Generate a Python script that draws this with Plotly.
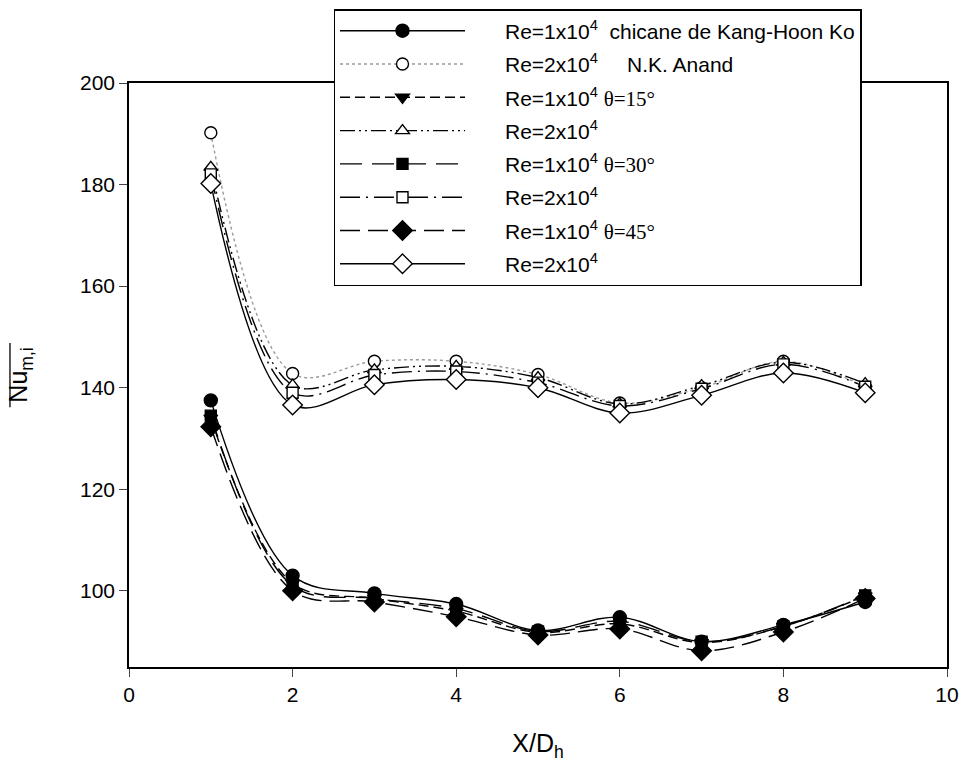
import plotly.graph_objects as go

x_pos = [1, 2, 3, 4, 5, 6, 7, 8, 9]

# Re = 1x10^4
ko_re1 = [137.5, 103.0, 99.5, 97.4, 92.2, 94.8, 90.0, 93.3, 97.8]
t15_re1 = [134.0, 101.5, 98.5, 96.0, 91.8, 93.5, 89.8, 93.0, 99.0]
t30_re1 = [134.5, 101.0, 98.5, 96.5, 92.0, 94.0, 90.0, 93.0, 99.1]
t45_re1 = [132.3, 100.0, 97.8, 94.9, 91.3, 92.5, 88.2, 91.9, 98.5]

# Re = 2x10^4
anand_re2 = [190.2, 142.8, 145.2, 145.2, 142.6, 137.0, 140.0, 145.2, 140.2]
t15_re2 = [183.4, 140.5, 143.5, 144.2, 142.0, 136.8, 140.4, 145.0, 140.8]
t30_re2 = [182.0, 139.0, 142.5, 143.2, 141.0, 136.4, 139.8, 144.6, 140.2]
t45_re2 = [180.2, 136.6, 140.6, 141.6, 140.0, 135.0, 138.5, 142.9, 139.0]

SERIF = "font-family:'Liberation Serif','Times New Roman',serif"
PAD = "\u00a0" * 6
names = [
    PAD + "Re=1x10<sup>4</sup>\u00a0\u00a0chicane de Kang-Hoon Ko",
    PAD + "Re=2x10<sup>4</sup>" + "\u00a0" * 5 + "N.K. Anand",
    PAD + f"Re=1x10<sup>4</sup> <span style=\"{SERIF}\">θ=15°</span>",
    PAD + "Re=2x10<sup>4</sup>",
    PAD + f"Re=1x10<sup>4</sup> <span style=\"{SERIF}\">θ=30°</span>",
    PAD + "Re=2x10<sup>4</sup>",
    PAD + f"Re=1x10<sup>4</sup> <span style=\"{SERIF}\">θ=45°</span>",
    PAD + "Re=2x10<sup>4</sup>",
]
series = [ko_re1, anand_re2, t15_re1, t15_re2, t30_re1, t30_re2, t45_re1, t45_re2]
symbols = ["circle", "circle-open", "triangle-down", "triangle-up-open",
           "square", "square-open", "diamond", "diamond-open"]
msizes = [13, 12, 12, 12, 11, 11, 15, 15]
dashes = ["solid", "dot", "10px,5px", "15px,4px,2px,4px,2px,4px", "22px,10px",
          "20px,6px,2px,6px", "20px,8px", "solid"]
lcolors = ["black", "#9a9a9a", "black", "black", "black", "black", "black", "black"]

fig = go.Figure()
for i, (nm, ys, sym, ms, dsh, lc) in enumerate(zip(names, series, symbols, msizes, dashes, lcolors)):
    filled = not sym.endswith("open")
    base = sym.replace("-open", "")
    fig.add_trace(go.Scatter(
        x=x_pos, y=ys, name=nm, mode="lines+markers", legendgroup=str(i),
        line=dict(color=lc, width=1.4, dash=dsh, shape="spline", smoothing=1.0),
        marker=dict(symbol=base, size=ms,
                    color="black" if filled else "white",
                    line=dict(color="black", width=1.4)),
    ))

# overline over the y-axis title (rotated), drawn as a thin rule
fig.add_shape(type="line", xref="paper", yref="paper",
              x0=-0.1455, x1=-0.1455, y0=0.4449, y1=0.5546,
              line=dict(color="black", width=1.3))

fig.update_layout(
    width=962, height=769,
    margin=dict(l=129, r=15, t=83, b=102, autoexpand=False),
    paper_bgcolor="white", plot_bgcolor="white",
    font=dict(family="Liberation Sans, Arial, sans-serif", size=21, color="black"),
    showlegend=True,
    legend=dict(x=0.250, y=1.1266, xanchor="left", yanchor="top",
                bordercolor="black", borderwidth=1.5, bgcolor="white",
                itemwidth=125, font=dict(size=21), tracegroupgap=3),
    xaxis=dict(range=[0, 10], tickvals=[0, 2, 4, 6, 8, 10], ticks="outside",
               ticklen=8, tickwidth=1.4, showline=True, linecolor="black",
               linewidth=1.5, mirror=True, showgrid=False, zeroline=False,
               title=dict(text="X/D<sub>h</sub>", font=dict(size=25), standoff=30)),
    yaxis=dict(range=[85, 200], tickvals=[100, 120, 140, 160, 180, 200],
               ticks="outside", ticklen=8, tickwidth=1.4, showline=True,
               linecolor="black", linewidth=1.5, mirror=True, showgrid=False,
               zeroline=False,
               title=dict(text="Nu<sub>m,i</sub>", font=dict(size=25), standoff=45)),
)

fig.write_html("out.html",
               config={"displayModeBar": False},
               post_script="document.body.style.margin='0';document.body.style.overflow='hidden';")
